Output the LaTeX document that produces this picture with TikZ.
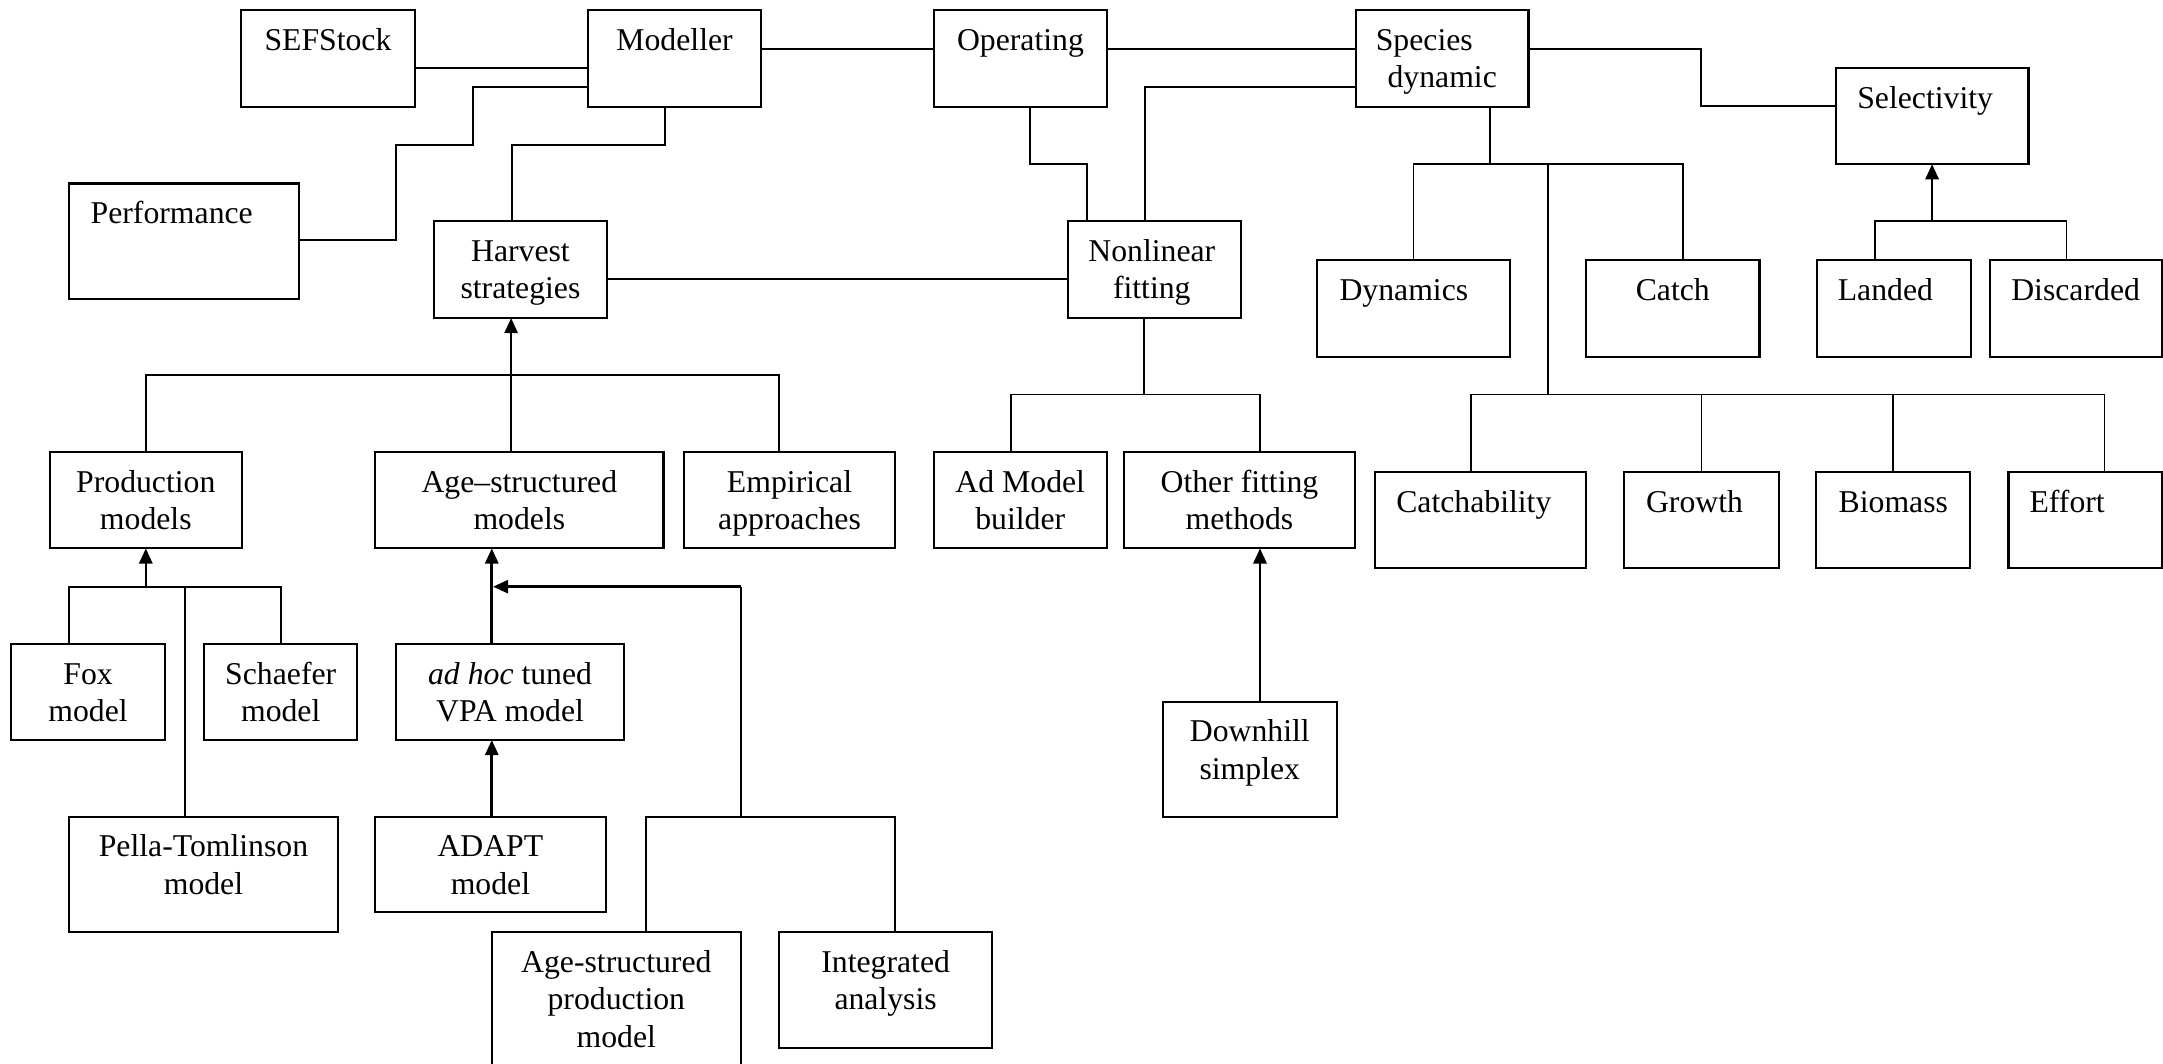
\documentclass[tikz,border=0pt]{standalone}
\usepackage{fontspec}
\setmainfont{Liberation Serif}
\usetikzlibrary{arrows.meta}

% box with top-aligned label: name, x1, y1, x2, y2, text, horizontal text offset
\newcommand\flowbox[7]{%
  \node[box, minimum width={#4-#2}, minimum height={#5-#3}, anchor=north west] (#1) at (#2,#3) {};
  \node[lbl] at ([xshift=#7pt, yshift=-10.1pt]#1.north) {\strut #6};}

\begin{document}
\begin{tikzpicture}[x=1pt, y=-1pt,
  box/.style={draw, line width=1.5pt, outer sep=0pt, inner sep=0pt},
  lbl/.style={anchor=north, align=center, inner sep=0pt, font=\fontsize{23}{27}\selectfont},
  ln/.style={line width=1.35pt},
  arr/.style={line width=1.9pt, -{Triangle[length=11pt,width=9.5pt]}}]
\useasboundingbox (0,0) rectangle (1568,771);

% top row
\flowbox{sef}{175}{7.5}{300.5}{77.3}{SEFStock}{0}
\flowbox{mod}{426.5}{7.5}{551.5}{77.3}{Modeller}{0}
\flowbox{op}{677}{7.5}{802.5}{77.3}{Operating}{0}
\flowbox{sp}{983}{7.5}{1108}{77.3}{Species\kern26pt\\dynamic}{0}
\flowbox{sel}{1330.7}{49.4}{1470.5}{119}{Selectivity}{-5}
\flowbox{perf}{50}{133}{217}{216.5}{Performance}{-9}

% second row
\flowbox{harv}{314.6}{160.5}{440}{230.5}{Harvest\\strategies}{0}
\flowbox{nl}{774.3}{160.5}{899.6}{230.5}{Nonlinear\\fitting}{-2}
\flowbox{dyn}{955}{188.5}{1094.4}{258.5}{Dynamics}{-7}
\flowbox{catch}{1149.7}{188.5}{1275.5}{258.5}{Catch}{0}
\flowbox{land}{1317}{188.5}{1428.5}{258.5}{Landed}{-6}
\flowbox{disc}{1442.3}{188.5}{1567}{258.5}{Discarded}{0}

% third row
\flowbox{prod}{36}{327.7}{175.4}{397.5}{Production\\models}{0}
\flowbox{age}{272}{327.7}{481}{397.5}{Age–structured\\models}{0}
\flowbox{emp}{496}{327.7}{648.7}{397.5}{Empirical\\approaches}{0}
\flowbox{adm}{677}{327.7}{802.2}{397.5}{Ad Model\\builder}{0}
\flowbox{oth}{814.8}{327.7}{982.2}{397.5}{Other fitting\\methods}{0}
\flowbox{cab}{996.8}{342}{1150}{411.9}{Catchability}{-5}
\flowbox{gro}{1177.5}{342}{1289.3}{411.9}{Growth}{-5}
\flowbox{bio}{1316.7}{342}{1428.3}{411.9}{Biomass}{0}
\flowbox{eff}{1456}{342}{1567}{411.9}{Effort}{-13}

% lower rows
\flowbox{fox}{8}{467}{119.7}{536.4}{Fox\\model}{0}
\flowbox{sch}{148}{467}{259}{536.4}{Schaefer\\model}{0}
\flowbox{adhoc}{287}{467}{452.5}{536.4}{\textit{ad hoc} tuned\\VPA model}{0}
\flowbox{pel}{50}{592}{245}{675.4}{Pella-Tomlinson\\model}{0}
\flowbox{adapt}{272}{592}{439}{661.4}{ADAPT\\model}{0}
\flowbox{down}{843}{508.6}{969}{592.5}{Downhill\\simplex}{0}
\flowbox{asp}{356.4}{675.8}{537.2}{790}{Age-structured\\production\\model}{0}
\flowbox{integ}{565}{675.8}{719}{759.5}{Integrated\\analysis}{0}

% connectors along the top
\draw[ln] (sef.east |- 0,49) -- (mod.west |- 0,49);
\draw[ln] (mod.west |- 0,63.3) -| (343,105) -| (287,174) -- (perf.east |- 0,174);
\draw[ln] (mod.south -| 482,0) |- (371,105) -- (harv.north -| 371,0);
\draw[ln] (mod.east |- 0,35.5) -- (op.west |- 0,35.5);
\draw[ln] (op.east |- 0,35.5) -- (sp.west |- 0,35.5);
\draw[ln] (op.south -| 746.5,0) |- (788,119) -- (nl.north -| 788,0);
\draw[ln] (sp.west |- 0,63.3) -| (nl.north -| 830,0);
\draw[ln] (harv.east |- 0,202.5) -- (nl.west |- 0,202.5);
\draw[ln] (sp.east |- 0,35.5) -| (1233,77) -- (sel.west |- 0,77);

% species dynamic tree
\coordinate (jsp) at (1080,119);
\coordinate (jmid) at (1122,119);
\coordinate (jbus) at (1122,286);
\draw[ln] (sp.south -| jsp) -- (jsp);
\draw[ln] (dyn.north) |- (1220,119) -- (catch.north -| 1220,0);
\draw[ln] (jmid) -- (jbus);
\draw[ln] (cab.north -| 1066.5,0) |- (1525.6,286) -- (eff.north -| 1525.6,0);
\draw[ln] (gro.north) -- (gro.north |- jbus);
\draw[ln] (bio.north) -- (bio.north |- jbus);

% selectivity tree
\coordinate (jsel) at (1400.6,160.5);
\draw[ln] (land.north -| 1359,0) |- (1498,160.5) -- (disc.north -| 1498,0);
\draw[arr] (sel.south |- jsel) -- (sel.south);

% harvest strategies tree
\draw[ln] (prod.north) |- (565,272) -- (emp.north -| 565,0);
\draw[arr] (age.north -| 370.5,0) -- (harv.south -| 370.5,0);

% production models tree
\coordinate (jprod) at (105.7,425.3);
\draw[ln] (fox.north -| 50,0) |- (sch.north |- jprod) -- (sch.north);
\draw[ln] (pel.north -| 134,0) -- (134,425.3);
\draw[arr] (prod.south |- jprod) -- (prod.south);

% age-structured models tree
\coordinate (jage) at (357.4,425.3);
\coordinate (jr) at (537,425.3);
\coordinate (jlow) at (537,592);
\draw[arr] (adapt.north -| 356.5,0) -- (adhoc.south -| 356.5,0);
\draw[arr] (adhoc.north -| 356.5,0) -- (age.south -| 356.5,0);
\draw[ln] (asp.north -| 468,0) |- (648.6,592) -- (integ.north -| 648.6,0);
\draw[ln] (jlow) -- (jr);
\draw[arr] (jr) -- (jage);

% nonlinear fitting tree
\draw[ln] (nl.south -| 829.3,0) -- (829.3,286);
\draw[ln] (adm.north -| 732.7,0) |- (913.4,286) -- (oth.north -| 913.4,0);
\draw[arr] (down.north -| 913.4,0) -- (oth.south -| 913.4,0);
\end{tikzpicture}
\end{document}
